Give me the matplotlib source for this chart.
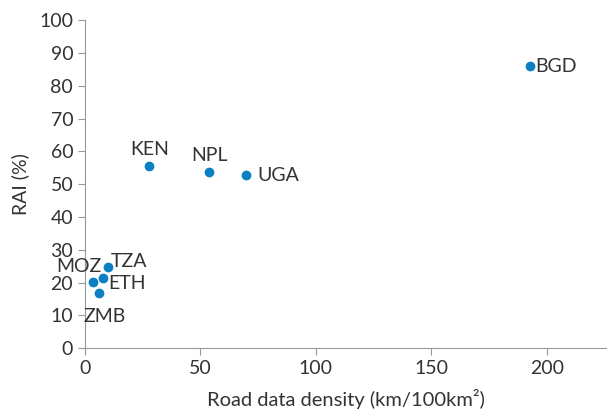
import matplotlib
matplotlib.use("Agg")
import matplotlib.pyplot as plt

countries = ["BGD", "KEN", "NPL", "UGA", "TZA", "ETH", "MOZ", "ZMB"]
road_density = [192.6, 27.8, 53.8, 69.8, 10.0, 7.8, 3.5, 6.1]
rai = [86.0, 55.5, 53.7, 52.7, 24.7, 21.3, 20.1, 16.8]

# label offsets (points) and alignment per country
offsets = {
    "BGD": (4, 0, "left", "center"),
    "KEN": (0, 6, "center", "bottom"),
    "NPL": (0, 6, "center", "bottom"),
    "UGA": (8, 0, "left", "center"),
    "TZA": (2, 4, "left", "center"),
    "ETH": (4, -4, "left", "center"),
    "MOZ": (-10, 11, "center", "center"),
    "ZMB": (4, -17, "center", "center"),
}

plt.rcParams["font.family"] = ["Lato", "DejaVu Sans"]
text_col = "#333333"

fig = plt.figure(figsize=(6.07, 4.2), dpi=100)
ax = fig.add_axes([0.14, 0.171, 0.86, 0.781])
ax.scatter(road_density, rai, s=36, color="#0a7fc2", zorder=3)

for c, x, y in zip(countries, road_density, rai):
    dx, dy, ha, va = offsets[c]
    ax.annotate(c, (x, y), xytext=(dx, dy), textcoords="offset points",
                ha=ha, va=va, fontsize=14, color=text_col)

ax.set_xlim(0, 226)
ax.set_ylim(0, 100)
ax.set_xticks([0, 50, 100, 150, 200])
ax.set_yticks(range(0, 101, 10))
ax.spines["top"].set_visible(False)
ax.spines["right"].set_visible(False)
for s in ["left", "bottom"]:
    ax.spines[s].set_color("#999999")
ax.tick_params(colors="#999999", labelcolor=text_col, labelsize=14, length=5)
ax.set_xlabel("Road data density (km/100km²)", fontsize=14.5, color=text_col, labelpad=9)
ax.set_ylabel("RAI (%)", fontsize=14, color=text_col, labelpad=7)

fig.savefig("out.png", dpi=100)
